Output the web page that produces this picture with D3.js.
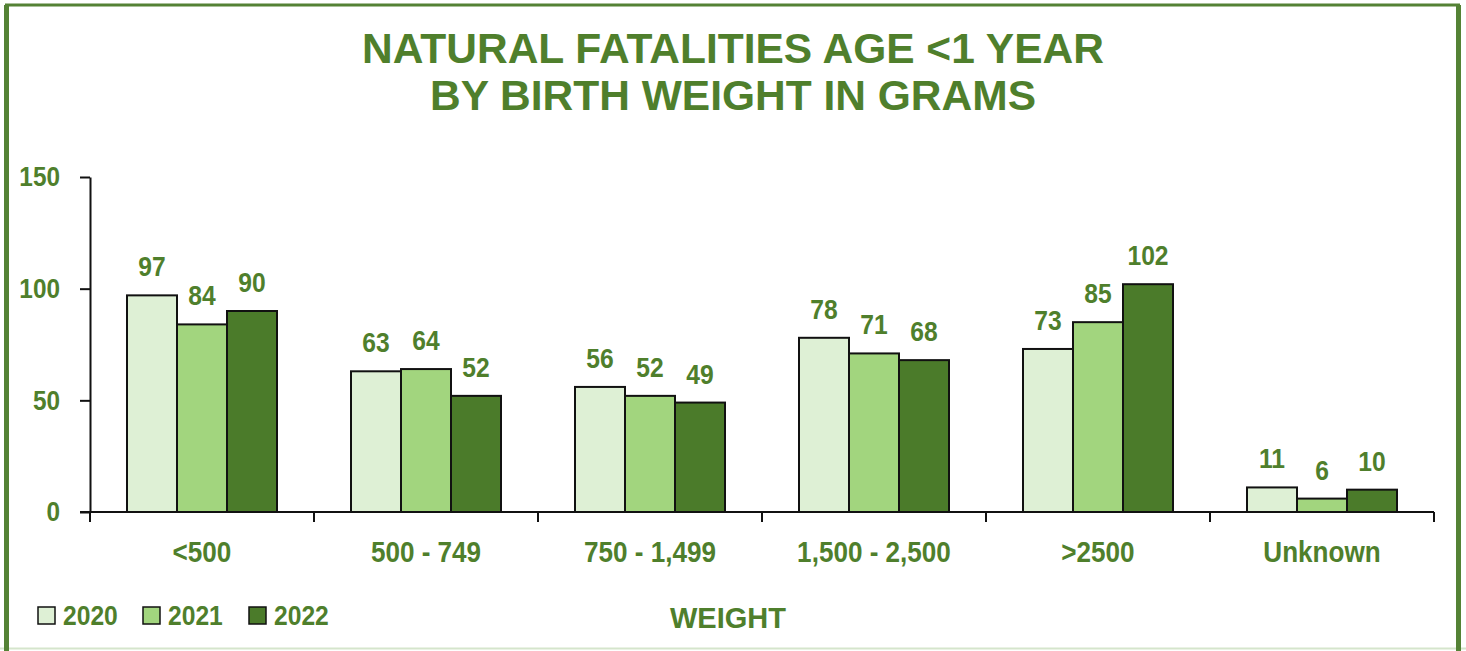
<!DOCTYPE html>
<html>
<head>
<meta charset="utf-8">
<script src="https://cdn.jsdelivr.net/npm/d3@7"></script>
<style>
  body { margin: 0; background: #fff; }
  text { font-family: "Liberation Sans", Arial, sans-serif; font-weight: bold; }
</style>
</head>
<body>
<script>
// data
var categories = ["<500", "500 - 749", "750 - 1,499", "1,500 - 2,500", ">2500", "Unknown"];
var years = ["2020", "2021", "2022"];
var v2020 = [97, 63, 56, 78, 73, 11];
var v2021 = [84, 64, 52, 71, 85, 6];
var v2022 = [90, 52, 49, 68, 102, 10];
var yTicks = [0, 50, 100, 150];

var width = 1466, height = 651,
    green = "#4F7F2C",
    colors = { "2020": "#DEF0D5", "2021": "#A2D57E", "2022": "#4B7B2A" };

var plot = { left: 90, right: 1434, top: 177, bottom: 512 };

// no narrow font installed: squeeze the text horizontally instead
function squeeze(sel, k) {
    sel.each(function () {
        var t = d3.select(this);
        var x = +t.attr("x") || 0, y = +t.attr("y") || 0;
        t.attr("x", null).attr("y", null)
            .attr("transform", `translate(${x},${y}) scale(${k},1)`);
    });
}

var svg = d3.select("body").append("svg")
    .attr("width", width)
    .attr("height", height);

// frame
svg.append("line").attr("x1", 0).attr("x2", width).attr("y1", 648.5).attr("y2", 648.5)
    .attr("stroke", "#D5E5CC").attr("stroke-width", 2);
svg.append("path")
    .attr("d", "M6.5,651 V5 H1458.5 V651")
    .attr("fill", "none")
    .attr("stroke", "#548235")
    .attr("stroke-width", 3);
svg.append("rect").attr("x", 4).attr("y", 5).attr("width", 5).attr("height", 646).attr("fill", "#548235");
svg.append("rect").attr("x", 1456).attr("y", 5).attr("width", 5).attr("height", 646).attr("fill", "#548235");

// title
var title = svg.append("text")
    .attr("text-anchor", "middle")
    .attr("fill", green)
    .style("font-size", "42.5px");
title.append("tspan").attr("x", 733).attr("y", 63).text("NATURAL FATALITIES AGE <1 YEAR");
title.append("tspan").attr("x", 733).attr("y", 110).text("BY BIRTH WEIGHT IN GRAMS");

var data = categories.map((c, i) => ({ cat: c, "2020": v2020[i], "2021": v2021[i], "2022": v2022[i] }));

var x0 = d3.scaleBand().domain(categories).range([plot.left, plot.right]).paddingInner(0).paddingOuter(0);
var inner = 150;
var x1 = d3.scaleBand().domain(years).range([0, inner]);
var y = d3.scaleLinear().domain([0, 150]).range([plot.bottom, plot.top]);

// bars
var groups = svg.selectAll(".grp")
    .data(data)
    .enter().append("g")
    .attr("class", "grp")
    .attr("transform", d => `translate(${x0(d.cat) + (x0.bandwidth() - inner) / 2},0)`);

groups.selectAll("rect")
    .data(d => years.map(yr => ({ yr: yr, v: d[yr] })))
    .enter().append("rect")
    .attr("x", d => x1(d.yr))
    .attr("y", d => y(d.v))
    .attr("width", x1.bandwidth())
    .attr("height", d => y(0) - y(d.v))
    .attr("fill", d => colors[d.yr])
    .attr("stroke", "#111")
    .attr("stroke-width", 2);

groups.selectAll(".val")
    .data(d => years.map(yr => ({ yr: yr, v: d[yr] })))
    .enter().append("text")
    .attr("class", "val")
    .attr("x", d => x1(d.yr) + x1.bandwidth() / 2)
    .attr("y", d => y(d.v) - 19)
    .attr("text-anchor", "middle")
    .attr("fill", green)
    .style("font-size", "28px")
    .text(d => d.v)
    .call(squeeze, 0.88);

// y axis
var yAxis = d3.axisLeft(y).tickValues(yTicks).tickSize(10).tickSizeOuter(0).tickPadding(20);
var gy = svg.append("g").attr("transform", `translate(${plot.left},0)`).call(yAxis);
gy.select(".domain").attr("stroke", "#111").attr("stroke-width", 2);
gy.selectAll(".tick line").attr("stroke", "#111").attr("stroke-width", 2);
gy.selectAll(".tick text").attr("fill", green).style("font-size", "28px").call(squeeze, 0.87);

// x axis
var xAxis = d3.axisBottom(x0).tickSize(0).tickPadding(29).tickSizeOuter(0);
var gx = svg.append("g").attr("transform", `translate(0,${plot.bottom})`).call(xAxis);
gx.select(".domain").attr("stroke", "#111").attr("stroke-width", 2).attr("d", `M${plot.left - 10},0H${plot.right}`);
gx.selectAll(".tick text").attr("fill", green).style("font-size", "29px").call(squeeze, 0.9);
// category boundary ticks
gx.selectAll(".bound")
    .data(categories.map(c => x0(c)).concat([plot.right]))
    .enter().append("line")
    .attr("x1", d => d).attr("x2", d => d)
    .attr("y1", 0).attr("y2", 10)
    .attr("stroke", "#111").attr("stroke-width", 2);

svg.append("text")
    .attr("x", 728).attr("y", 628)
    .attr("text-anchor", "middle")
    .attr("fill", green)
    .style("font-size", "29px")
    .text("WEIGHT");

// legend
var legendX = [38, 143, 249];
var legend = svg.selectAll(".leg")
    .data(years)
    .enter().append("g")
    .attr("class", "leg")
    .attr("transform", (d, i) => `translate(${legendX[i]},607)`);
legend.append("rect")
    .attr("width", 17).attr("height", 17)
    .attr("fill", d => colors[d])
    .attr("stroke", "#111").attr("stroke-width", 1.5);
legend.append("text")
    .attr("x", 25).attr("y", 18)
    .attr("fill", green)
    .style("font-size", "28px")
    .text(d => d)
    .call(squeeze, 0.88);
</script>
</body>
</html>
